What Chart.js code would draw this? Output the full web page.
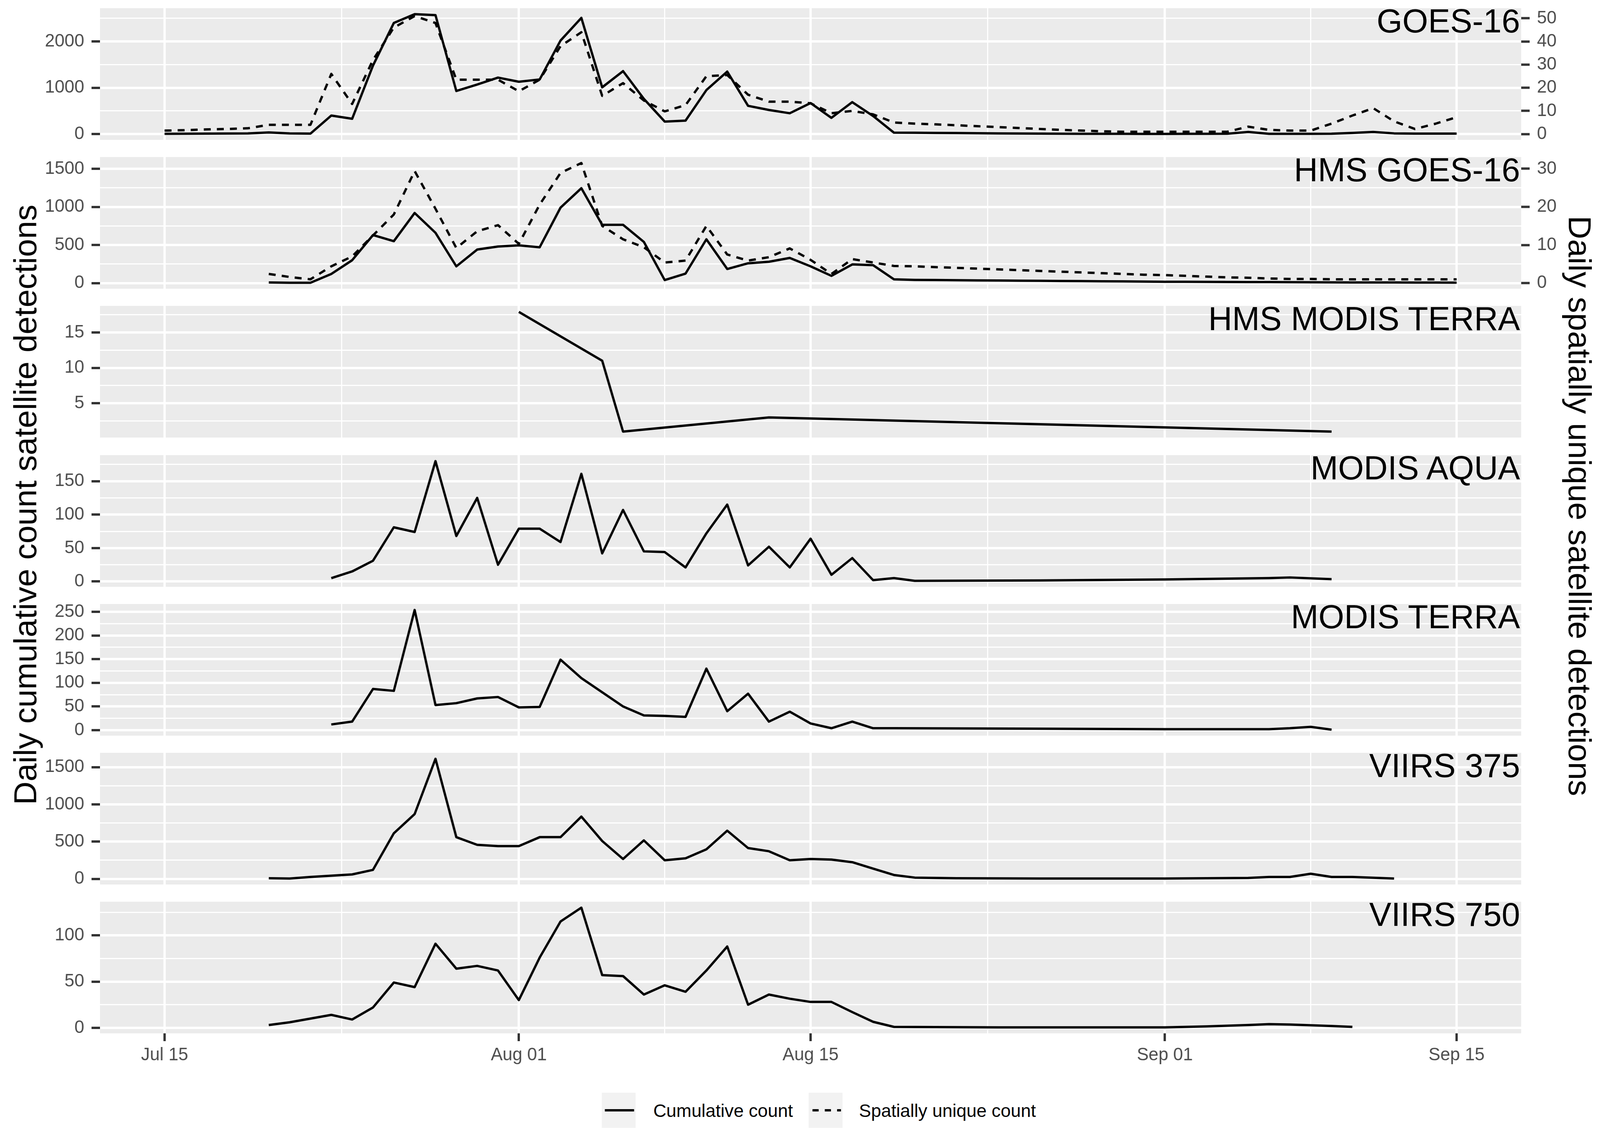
<!DOCTYPE html>
<html>
<head>
<meta charset="utf-8">
<script src="https://cdn.jsdelivr.net/npm/chart.js@4.4.1/dist/chart.umd.min.js"></script>
<style>
html,body{margin:0;padding:0;background:#fff;overflow:hidden;}
#page{position:absolute;left:0;top:0;width:4161px;height:2895px;overflow:hidden;background:#fff;font-family:"Liberation Sans",Arial,Helvetica,sans-serif;transform-origin:0 0;}
#page canvas{position:absolute;left:0;}
.ptitle{position:absolute;right:208px;font-size:86px;line-height:86px;color:#000;white-space:nowrap;}
.atitle{position:absolute;width:2400px;height:84px;font-size:83px;line-height:84px;color:#000;white-space:nowrap;text-align:center;transform-origin:50% 50%;}
.lkey{position:absolute;width:88px;height:90px;background:#F2F2F2;}
.ltext{position:absolute;font-size:47px;line-height:47px;color:#000;white-space:nowrap;}
</style>
</head>
<body>
<div id="page"></div>
<script>
// ---------------- DATA ----------------
const N = null;
// Day categories: Jul 15 ... Sep 15
const dayLabels = [];
for (let d = 15; d <= 31; d++) dayLabels.push('Jul ' + String(d).padStart(2, '0'));
for (let d = 1; d <= 31; d++) dayLabels.push('Aug ' + String(d).padStart(2, '0'));
for (let d = 1; d <= 15; d++) dayLabels.push('Sep ' + String(d).padStart(2, '0'));

const xTickLabels = ['Jul 15', 'Aug 01', 'Aug 15', 'Sep 01', 'Sep 15'];

const panelTitles = ['GOES-16', 'HMS GOES-16', 'HMS MODIS TERRA', 'MODIS AQUA', 'MODIS TERRA', 'VIIRS 375', 'VIIRS 750'];

// Cumulative counts (left axis)
const goesCum = [5, 8, 10, 12, 15, 35, 15, 10, 400, 330, 1480, 2400, 2590, 2570,
  930, 1070, 1220, 1130, 1180, 2020, 2510, 1010, 1360, 760, 270, 290, 950, 1350,
  610, 520, 450, 670, 350, 690, 390, 30, 28, 25, 22, 18, 15, 12, 10, 8, 6, 5, 5, 4,
  4, 5, 6, 8, 45, 6, 5, 5, 8, 25, 45, 15, 10, 10, 10];
const hmsGoesCum = [N, N, N, N, N, 8, 5, 5, 120, 300, 630, 550, 920, 660,
  220, 440, 480, 495, 470, 990, 1245, 765, 765, 540, 40, 125, 575, 185,
  260, 280, 330, 220, 95, 245, 235, 50, 42, 40, 38, 36, 34, 32, 30, 28, 26, 24, 22, 20,
  18, 17, 16, 15, 14, 13, 12, 11, 10, 9, 8, 8, 7, 7, 6];
const hmsModisTerraCum = [N, N, N, N, N, N, N, N, N, N, N, N, N, N,
  N, N, N, 17.9, N, N, N, 11.0, 1.0, N, N, N, N, N,
  N, 3.0, N, N, N, N, N, N, N, N, N, N, N, N, N, N, N, N, N, N,
  N, N, N, N, N, N, N, N, 1.0, N, N, N, N, N, N];
const modisAquaCum = [N, N, N, N, N, N, N, N, 5, 15, 31, 81, 74, 180,
  68, 125, 25, 79, 79, 59, 161, 42, 107, 45, 44, 21, 72, 115,
  24, 52, 21, 64, 10, 35, 2, 5, 1, N, N, N, N, N, 1.5, N, N, N, N, N,
  3, N, N, N, N, 5, 6, N, 3.5, N, N, N, N, N, N];
const modisTerraCum = [N, N, N, N, N, N, N, N, 12, 18, 87, 83, 254, 53,
  57, 67, 70, 48, 49, 149, 110, 80, 50, 31, 30, 28, 130, 40,
  77, 18, 39, 14, 4, 18, 4, 4, N, N, N, N, N, N, 3, N, N, N, N, N,
  2, N, N, N, N, 2, 4, 7, 1, N, N, N, N, N, N];
const viirs375Cum = [N, N, N, N, N, 9, 5, 26, 43, 60, 121, 612, 870, 1612,
  560, 457, 440, 440, 560, 560, 836, 508, 267, 517, 250, 276, 397, 647,
  414, 371, 250, 267, 259, 224, 138, 52, 17, N, 8, N, N, N, 5, N, N, N, N, N,
  5, N, N, N, 12, 26, 26, 69, 26, 26, 15, 5, N, N, N];
const viirs750Cum = [N, N, N, N, N, 3, 6, 10, 14, 9, 22, 49, 44, 91,
  64, 67, 62, 30, 76, 115, 130, 57, 56, 36, 46, 39, 62, 88,
  25, 36, 31.5, 28, 28, 17, 6.5, 1, N, N, N, N, 0.5, N, N, N, N, N, N, N,
  0.5, N, 1.5, N, 3, 4, 3.5, N, 2, 1, N, N, N, N, N];

// Spatially unique counts (right axis)
const goesUniq = [1.5, 1.7, 2.0, 2.2, 2.5, 4, 4, 4, 26, 13, 32, 46, 51, 48,
  23.5, 23.5, 23.5, 18.5, 23.5, 38, 44, 16.5, 22, 14.5, 9.8, 12.5, 25, 25.5,
  17, 14, 14, 13.3, 9, 10, 8.5, 5, 4.5, 4.2, 3.8, 3.4, 3.0, 2.6, 2.2, 1.8, 1.5, 1.2, 1.0, 1.0,
  1.0, 1.0, 1.0, 1.0, 3.2, 1.8, 1.5, 1.5, 4.5, 8, 11.2, 5.5, 2.2, 4.5, 7.3];
const hmsGoesUniq = [N, N, N, N, N, 2.4, 1.6, 1.0, 4.4, 7, 12.5, 18, 29.4, 19.5,
  9.2, 13.6, 15.2, 10.3, 20.6, 28.9, 31.5, 15, 11.5, 9.4, 5.4, 5.9, 15, 7.5,
  5.9, 6.8, 9.1, 6.1, 2.4, 6.3, 5.4, 4.5, 4.4, 4.2, 4.0, 3.8, 3.6, 3.4, 3.2, 3.0, 2.8, 2.6, 2.4, 2.2,
  2.1, 1.9, 1.7, 1.5, 1.4, 1.2, 1.1, 1.1, 1.0, 1.0, 1.0, 1.0, 1.0, 1.0, 1.0];

// Tick labels per panel
const yTicksLeft = [
  [0, 1000, 2000],
  [0, 500, 1000, 1500],
  [5, 10, 15],
  [0, 50, 100, 150],
  [0, 50, 100, 150, 200, 250],
  [0, 500, 1000, 1500],
  [0, 50, 100]
];
const yTicksRight = [
  [0, 10, 20, 30, 40, 50],
  [0, 10, 20, 30]
];
const SEC_RATIO = 50; // right axis = left axis / 50

const cumSeries = [goesCum, hmsGoesCum, hmsModisTerraCum, modisAquaCum, modisTerraCum, viirs375Cum, viirs750Cum];
const uniqSeries = [goesUniq, hmsGoesUniq, N, N, N, N, N];

// ---------------- LAYOUT / STYLE ----------------
const FONT = '"Liberation Sans", Arial, Helvetica, sans-serif';
const W = 4161, HP = 2895;
const PANEL_LEFT = 260, PANEL_RIGHT = 3956;
const PANEL_TOP0 = 21, PANEL_PITCH = 381.2, PANEL_H = 337;
const PAD = 60, XAXIS_H = 100;
const RIGHT_W = W - PANEL_RIGHT;
const BG = '#EBEBEB', GRID = '#FFFFFF', TICKC = '#333333', TXT = '#4D4D4D';
const LW = 6, GRID_MAJ = 6, GRID_MIN = 3;

const page = document.getElementById('page');
// fit the 4161x2895 design into the actual viewport
(function fit() {
  const vw = window.innerWidth || W, vh = window.innerHeight || HP;
  const sx = vw / W, sy = vh / HP;
  if (Math.abs(sx - 1) > 0.002 || Math.abs(sy - 1) > 0.002) {
    page.style.transform = 'scale(' + sx + ',' + sy + ')';
  }
})();

const panelBg = {
  id: 'panelBg',
  beforeDraw(chart) {
    const { ctx, chartArea: a } = chart;
    ctx.save();
    ctx.fillStyle = BG;
    ctx.fillRect(a.left, a.top, a.right - a.left, a.bottom - a.top);
    ctx.restore();
  }
};

function withMinors(majors, lo, hi) {
  const out = majors.slice();
  const step = majors.length > 1 ? majors[1] - majors[0] : 1;
  for (let k = -1; k < majors.length; k++) {
    const m = (k < 0 ? majors[0] - step : majors[k]) + step / 2;
    if (m >= lo && m <= hi) out.push(m);
  }
  return out.sort((a, b) => a - b);
}

// x axis
const xIdx = xTickLabels.map(l => dayLabels.indexOf(l));
const xLo = 0, xHi = dayLabels.length - 1;
const xMin = xLo - 0.05 * (xHi - xLo), xMax = xHi + 0.05 * (xHi - xLo);
const xMinors = [];
for (let k = 0; k < xIdx.length - 1; k++) xMinors.push((xIdx[k] + xIdx[k + 1]) / 2);
const xAll = xIdx.concat(xMinors).sort((a, b) => a - b);
const isXMajor = v => xIdx.indexOf(v) >= 0;

panelTitles.forEach((title, i) => {
  const top = Math.round(PANEL_TOP0 + i * PANEL_PITCH);
  const isLast = i === panelTitles.length - 1;
  const xh = isLast ? XAXIS_H : 0;
  const H = PAD + PANEL_H + PAD + xh;
  const cv = document.createElement('canvas');
  cv.width = W; cv.height = H;
  cv.style.width = W + 'px'; cv.style.height = H + 'px';
  cv.style.top = (top - PAD) + 'px';
  page.appendChild(cv);

  const cum = cumSeries[i];
  const uniq = uniqSeries[i];
  const vals = cum.filter(v => v != null);
  if (uniq) uniq.forEach(v => { if (v != null) vals.push(v * SEC_RATIO); });
  const lo = Math.min(...vals), hi = Math.max(...vals);
  const yMin = lo - 0.05 * (hi - lo), yMax = hi + 0.05 * (hi - lo);
  const majors = yTicksLeft[i];
  const yAll = withMinors(majors, yMin, yMax);
  const isYMajor = v => majors.indexOf(v) >= 0;

  const datasets = [{
    label: 'Cumulative count',
    data: cum,
    yAxisID: 'y',
    borderColor: '#000', borderWidth: LW, pointRadius: 0, tension: 0,
    spanGaps: true, fill: false, borderJoinStyle: 'round'
  }];
  const scales = {
    x: {
      type: 'linear', min: xMin, max: xMax,
      afterBuildTicks: s => { s.ticks = xAll.map(v => ({ value: v })); },
      afterFit: s => { s.height = xh; },
      border: { display: false },
      grid: {
        color: GRID,
        lineWidth: c => (c.tick && isXMajor(c.tick.value)) ? GRID_MAJ : GRID_MIN,
        drawTicks: isLast, tickLength: 20, tickWidth: 6,
        tickColor: c => (c.tick && isXMajor(c.tick.value)) ? TICKC : 'rgba(0,0,0,0)'
      },
      ticks: {
        display: isLast, autoSkip: false, maxRotation: 0, padding: 9, color: TXT,
        font: { family: FONT, size: 46 },
        callback: v => isXMajor(v) ? dayLabels[v] : ''
      }
    },
    y: {
      position: 'left', min: yMin, max: yMax,
      afterBuildTicks: s => { s.ticks = yAll.map(v => ({ value: v })); },
      afterFit: s => { s.width = PANEL_LEFT; },
      border: { display: false },
      grid: {
        color: GRID,
        lineWidth: c => (c.tick && isYMajor(c.tick.value)) ? GRID_MAJ : GRID_MIN,
        drawTicks: true, tickLength: 22, tickWidth: 6,
        tickColor: c => (c.tick && isYMajor(c.tick.value)) ? TICKC : 'rgba(0,0,0,0)'
      },
      ticks: {
        autoSkip: false, padding: 19, color: TXT,
        font: { family: FONT, size: 46 },
        callback: v => isYMajor(v) ? String(v) : ''
      }
    }
  };
  if (uniq) {
    const rt = yTicksRight[i];
    datasets.push({
      label: 'Spatially unique count',
      data: uniq,
      yAxisID: 'y2',
      borderColor: '#000', borderWidth: LW, borderDash: [18, 16], pointRadius: 0, tension: 0,
      spanGaps: true, fill: false, borderJoinStyle: 'round'
    });
    scales.y2 = {
      position: 'right', min: yMin / SEC_RATIO, max: yMax / SEC_RATIO,
      afterBuildTicks: s => { s.ticks = rt.map(v => ({ value: v })); },
      afterFit: s => { s.width = RIGHT_W; },
      border: { display: false },
      grid: { drawOnChartArea: false, drawTicks: true, tickLength: 22, tickWidth: 6, tickColor: TICKC },
      ticks: {
        autoSkip: false, padding: 19, color: TXT,
        font: { family: FONT, size: 46 },
        callback: v => String(v)
      }
    };
  }

  new Chart(cv, {
    type: 'line',
    data: { labels: dayLabels.map((_, j) => j), datasets },
    options: {
      responsive: false, animation: false, events: [],
      layout: { padding: { top: PAD, bottom: PAD, left: 0, right: uniq ? 0 : RIGHT_W } },
      plugins: { legend: { display: false }, tooltip: { enabled: false }, title: { display: false } },
      scales
    },
    plugins: [panelBg]
  });

  const t = document.createElement('div');
  t.className = 'ptitle';
  t.textContent = title;
  t.style.top = (top - 11) + 'px';
  page.appendChild(t);
});

// axis titles
function addAxisTitle(text, cx, cy, rot) {
  const d = document.createElement('div');
  d.className = 'atitle';
  d.textContent = text;
  d.style.left = (cx - 1200) + 'px';
  d.style.top = (cy - 42) + 'px';
  d.style.transform = 'rotate(' + rot + 'deg)';
  page.appendChild(d);
}
addAxisTitle('Daily cumulative count satellite detections', 66, 1292, -90);
addAxisTitle('Daily spatially unique satellite detections', 4108, 1295, 90);

// legend
const legendItems = [
  { label: 'Cumulative count', dash: '', keyLeft: 1565, textLeft: 1699 },
  { label: 'Spatially unique count', dash: '16 16', keyLeft: 2103, textLeft: 2234 }
];
legendItems.forEach(it => {
  const k = document.createElement('div');
  k.className = 'lkey';
  k.style.left = it.keyLeft + 'px';
  k.style.top = '2797px';
  k.innerHTML = '<svg width="88" height="90" xmlns="http://www.w3.org/2000/svg"><line x1="8" y1="45" x2="84" y2="45" stroke="#000" stroke-width="' + LW + '"' +
    (it.dash ? ' stroke-dasharray="' + it.dash + '" stroke-dashoffset="-2"' : '') + '/></svg>';
  page.appendChild(k);
  const tx = document.createElement('div');
  tx.className = 'ltext';
  tx.textContent = it.label;
  tx.style.left = it.textLeft + 'px';
  tx.style.top = '2819px';
  page.appendChild(tx);
});
</script>
</body>
</html>
